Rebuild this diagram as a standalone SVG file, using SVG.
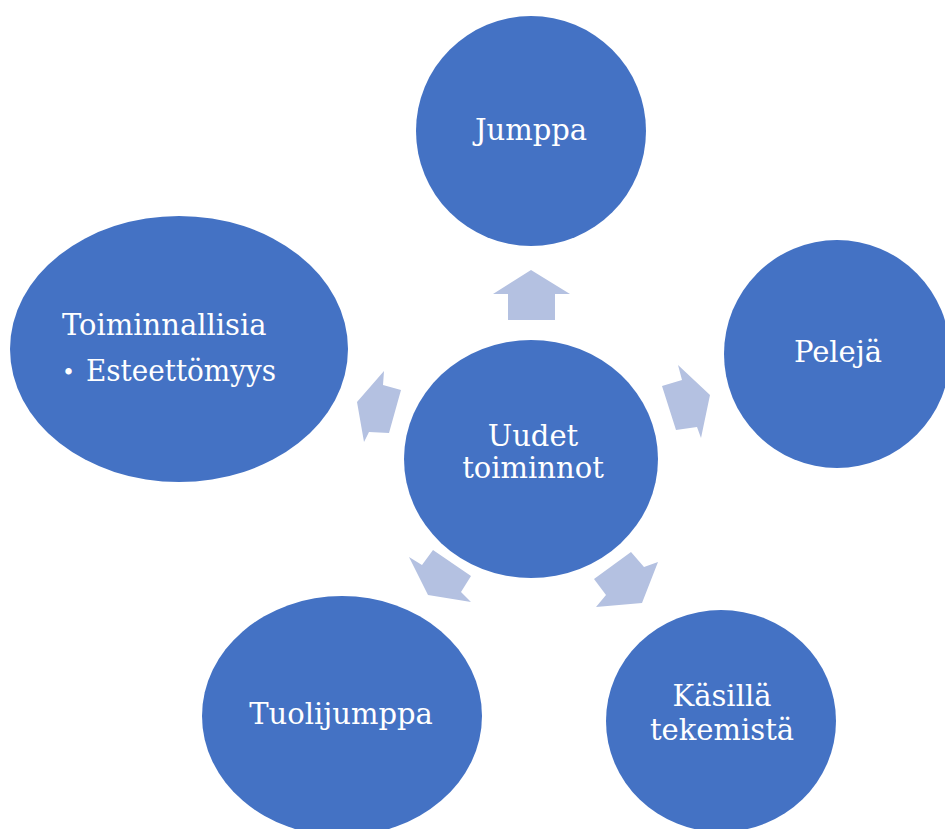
<svg xmlns="http://www.w3.org/2000/svg" width="945" height="829" viewBox="0 0 945 829">
  <style>
    .node { fill: #4472C4; }
    .arrow { fill: #B4C1E1; }
    .lbl { fill: #FFFFFF; font-family: "DejaVu Serif", "Liberation Serif", serif; font-size: 29px; }
    .c { text-anchor: middle; }
    .bullet { font-size: 22px; }
  </style>
  <rect width="945" height="829" fill="#FFFFFF"/>

  <g id="connectors">
    <polygon class="arrow" points="531,270 570,294 555,294 555,320 508,320 508,294 493,294"/>
    <polygon class="arrow" points="710,395 701,438 697,427 676,430 662,386 682,380 678,365"/>
    <polygon class="arrow" points="357,402 384,371 383,385 401,390 389,433 369,432 364,442"/>
    <polygon class="arrow" points="428,595 409,557 422,565 433,550 471,576 461,592 471,602"/>
    <polygon class="arrow" points="642,603 596,607 606,595 594,579 631,552 644,567 658,562"/>
  </g>

  <g id="node-jumppa">
    <circle class="node" cx="531" cy="131" r="115"/>
    <text class="lbl c" x="531" y="140">Jumppa</text>
  </g>

  <g id="node-peleja">
    <ellipse class="node" cx="837" cy="354" rx="113" ry="114"/>
    <text class="lbl c" x="838" y="362">Pelejä</text>
  </g>

  <g id="node-toiminnallisia">
    <ellipse class="node" cx="179" cy="349" rx="169" ry="133"/>
    <text class="lbl" x="62" y="335">Toiminnallisia</text>
    <text class="lbl bullet" x="62" y="380">•</text>
    <text class="lbl" x="86" y="381" textLength="190" lengthAdjust="spacingAndGlyphs">Esteettömyys</text>
  </g>

  <g id="node-uudet">
    <ellipse class="node" cx="531" cy="459" rx="127" ry="119"/>
    <text class="lbl c" x="533" y="446">Uudet</text>
    <text class="lbl c" x="533" y="478">toiminnot</text>
  </g>

  <g id="node-tuolijumppa">
    <ellipse class="node" cx="342" cy="716" rx="140" ry="120"/>
    <text class="lbl c" x="341" y="724">Tuolijumppa</text>
  </g>

  <g id="node-kasilla">
    <ellipse class="node" cx="721" cy="721" rx="115" ry="111"/>
    <text class="lbl c" x="722" y="706">Käsillä</text>
    <text class="lbl c" x="722" y="740">tekemistä</text>
  </g>
</svg>
